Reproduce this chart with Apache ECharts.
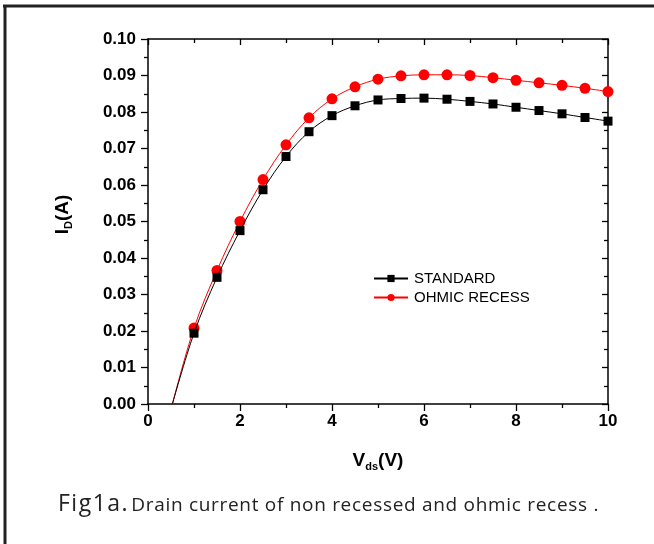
<!DOCTYPE html>
<html><head><meta charset="utf-8">
<script src="https://cdn.jsdelivr.net/npm/echarts@6/dist/echarts.min.js"></script>
<style>html,body{margin:0;padding:0;background:#fff}#c{width:654px;height:544px}</style>
</head><body><div id="c"></div>
<script>
const vds = [0.53, 1, 1.5, 2, 2.5, 3, 3.5, 4, 4.5, 5, 5.5, 6, 6.5, 7, 7.5, 8, 8.5, 9, 9.5, 10];
const standard = [0, 0.0194, 0.0347, 0.0475, 0.0587, 0.0678, 0.0746, 0.0790, 0.0817, 0.0833, 0.0837, 0.0838, 0.0835, 0.0829, 0.0822, 0.0813, 0.0804, 0.0795, 0.0785, 0.0775];
const ohmic = [0, 0.0208, 0.0366, 0.0500, 0.0615, 0.0710, 0.0784, 0.0836, 0.0869, 0.0890, 0.0899, 0.0902, 0.0902, 0.0900, 0.0894, 0.0887, 0.0880, 0.0873, 0.0865, 0.0856];
const xTicks = [0, 2, 4, 6, 8, 10];
const yTicks = [0, 0.01, 0.02, 0.03, 0.04, 0.05, 0.06, 0.07, 0.08, 0.09, 0.10];
const captionHead = 'Fig1a.';
const captionBody = 'Drain current of non recessed and ohmic recess .';

function pts(vals){
  return vds.map((x,i)=> i===0 ? {value:[x, vals[i]], symbol:'none'} : [x, vals[i]]);
}
function spaced(str, style){
  return str.split('').map(ch => '{' + style + '|' + (ch === ' ' ? '\u00a0' : ch) + '}').join('');
}
const chart = echarts.init(document.getElementById('c'));
const lab = {fontFamily:'Liberation Sans, Arial', fontWeight:'bold', fontSize:17, color:'#000'};
chart.setOption({
  animation:false,
  grid:{left:148, right:46, top:39, bottom:140},
  legend:{
    left:368, top:266, orient:'vertical', itemGap:4, itemWidth:34, itemHeight:9,
    textStyle:{fontFamily:'Liberation Sans, Arial', fontSize:15, color:'#000', padding:[0,0,0,1]},
    data:['STANDARD','OHMIC RECESS']
  },
  xAxis:[{
    type:'value', min:0, max:10, interval:2, position:'bottom',
    axisLine:{lineStyle:{color:'#000', width:1.5}},
    axisTick:{inside:false, length:7, lineStyle:{color:'#000', width:1.3}},
    minorTick:{show:true, splitNumber:2, length:4, lineStyle:{color:'#000', width:1.3}},
    splitLine:{show:false},
    axisLabel:Object.assign({margin:9, formatter:v=>xTicks.includes(v)?String(v):''}, lab),
    name:'{b|V}{s|ds}{b|(V)}', nameLocation:'middle', nameGap:45,
    nameTextStyle:{rich:{b:{fontFamily:'Liberation Sans, Arial', fontWeight:'bold', fontSize:19, color:'#000'}, s:{fontFamily:'Liberation Sans, Arial', fontWeight:'bold', fontSize:11, color:'#000', verticalAlign:'bottom', padding:[12,0,0,0]}}}
  },{
    type:'value', min:0, max:10, interval:2, position:'top',
    axisLine:{onZero:false, lineStyle:{color:'#000', width:1.5}},
    axisTick:{inside:true, length:6, lineStyle:{color:'#000', width:1.3}},
    minorTick:{show:true, splitNumber:2, length:4, lineStyle:{color:'#000', width:1.3}},
    axisLabel:{show:false}, splitLine:{show:false}
  }],
  yAxis:[{
    type:'value', min:0, max:0.1, interval:0.01, position:'left',
    axisLine:{lineStyle:{color:'#000', width:1.5}},
    axisTick:{inside:false, length:7, lineStyle:{color:'#000', width:1.3}},
    minorTick:{show:true, splitNumber:2, length:4, lineStyle:{color:'#000', width:1.3}},
    splitLine:{show:false},
    axisLabel:Object.assign({margin:12, formatter:v=>v.toFixed(2)}, lab),
    name:'{b|I}{s|D}{b|(A)}', nameLocation:'middle', nameGap:74, nameRotate:90,
    nameTextStyle:{padding:[0,0,0,14], rich:{b:{fontFamily:'Liberation Sans, Arial', fontWeight:'bold', fontSize:19, color:'#000'}, s:{fontFamily:'Liberation Sans, Arial', fontWeight:'bold', fontSize:11, color:'#000', verticalAlign:'bottom', padding:[12,0,0,0]}}}
  },{
    type:'value', min:0, max:0.1, interval:0.01, position:'right',
    axisLine:{onZero:false, lineStyle:{color:'#000', width:1.5}},
    axisTick:{inside:true, length:6, lineStyle:{color:'#000', width:1.3}},
    minorTick:{show:true, splitNumber:2, length:4, lineStyle:{color:'#000', width:1.3}},
    axisLabel:{show:false}, splitLine:{show:false}
  }],
  series:[
    {name:'STANDARD', type:'line', smooth:0.35, data:pts(standard), symbol:'rect', symbolSize:9,
     lineStyle:{color:'#000', width:1}, itemStyle:{color:'#000'}, z:3},
    {name:'OHMIC RECESS', type:'line', smooth:0.35, data:pts(ohmic), symbol:'circle', symbolSize:11,
     lineStyle:{color:'#ff0000', width:1}, itemStyle:{color:'#ff0000'}, z:2}
  ],
  graphic:[
    {type:'line', shape:{x1:3, y1:6, x2:654, y2:6}, style:{stroke:'#222', lineWidth:3}},
    {type:'line', shape:{x1:5, y1:5, x2:5, y2:544}, style:{stroke:'#222', lineWidth:3}},
    {type:'text', left:58, top:493, style:{
      text: spaced(captionHead, 'a') + '{g|\u00a0}' + spaced(captionBody, 'b'),
      rich:{
        a:{fontFamily:'Open Sans', fontSize:23, fill:'#222', padding:[0,1.5,0,0]},
        g:{fontFamily:'Open Sans', fontSize:8, fill:'#222'},
        b:{fontFamily:'Open Sans', fontSize:19, fill:'#222', padding:[3,0.7,0,0]}
      }
    }}
  ]
});
</script></body></html>
